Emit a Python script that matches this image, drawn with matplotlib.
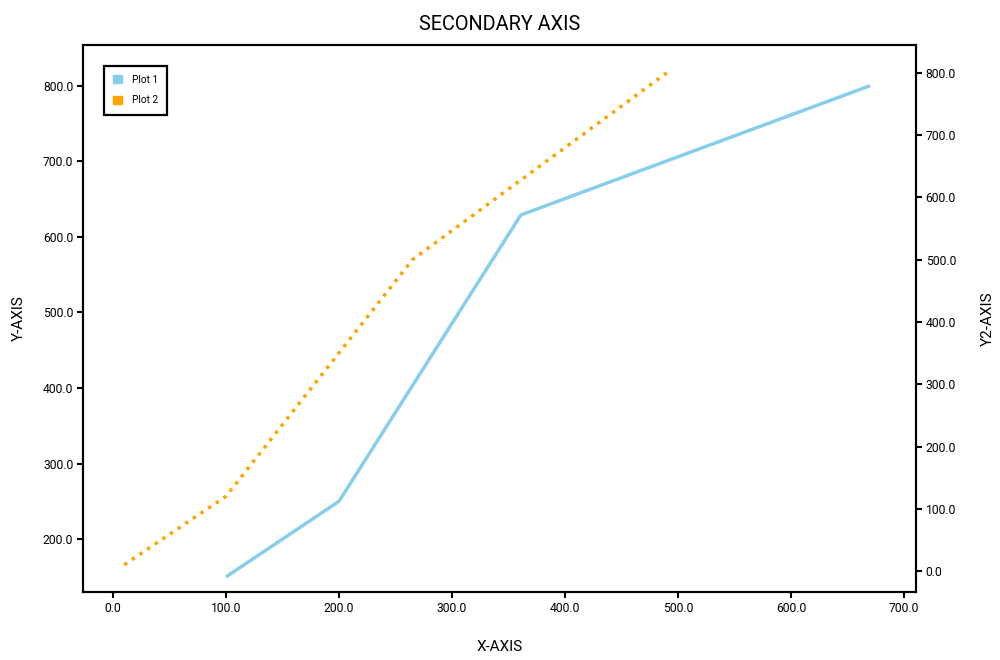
import matplotlib
matplotlib.use("Agg")
import matplotlib.pyplot as plt
from matplotlib.patches import Patch
from matplotlib.ticker import FormatStrFormatter

plt.rcParams["font.family"] = ["Roboto", "DejaVu Sans"]

# data
x1 = [100, 200, 361, 670]
y1 = [150, 250, 629, 800]
x2 = [10, 100, 265, 490]
y2 = [10, 120, 500, 800]

c1 = "#87CEEB"
c2 = "#FFA500"

fig = plt.figure(figsize=(10, 6.6), dpi=100)
ax = fig.add_axes([0.083, 0.103, 0.833, 0.829])
ax2 = ax.twinx()

ax.plot(x1, y1, color=c1, lw=2.5, solid_capstyle="butt")
ax2.plot(x2, y2, color=c2, lw=2.5, linestyle=":")

ax.set_xlim(-26.5, 710.6)
ax.set_ylim(130, 854)
ax2.set_ylim(-33.7, 845)

ax.set_xticks(range(0, 701, 100))
ax.set_yticks(range(200, 801, 100))
ax2.set_yticks(range(0, 801, 100))
for a in (ax, ax2):
    a.xaxis.set_major_formatter(FormatStrFormatter("%.1f"))
    a.yaxis.set_major_formatter(FormatStrFormatter("%.1f"))
    for s in a.spines.values():
        s.set_linewidth(1.5)
    a.tick_params(direction="out", length=4, width=1.5, labelsize=8.7, pad=3)

ax.set_title("SECONDARY AXIS", fontsize=14.3, pad=11)
ax.set_xlabel("X-AXIS", fontsize=11, labelpad=18)
ax.set_ylabel("Y-AXIS", fontsize=11, labelpad=12)
ax2.set_ylabel("Y2-AXIS", fontsize=11, rotation=90, labelpad=18)

handles = [Patch(color=c1, label="Plot 1"), Patch(color=c2, label="Plot 2")]
leg = ax.legend(handles=handles, loc="upper left", fontsize=7.3,
                handlelength=0.85, handleheight=0.85, handletextpad=1.0,
                borderpad=0.9, labelspacing=1.05, fancybox=False,
                bbox_to_anchor=(0.025, 0.962), borderaxespad=0)
leg.get_frame().set_edgecolor("black")
leg.get_frame().set_linewidth(1.6)
leg.get_frame().set_alpha(1)

fig.savefig("out.png", dpi=100)
